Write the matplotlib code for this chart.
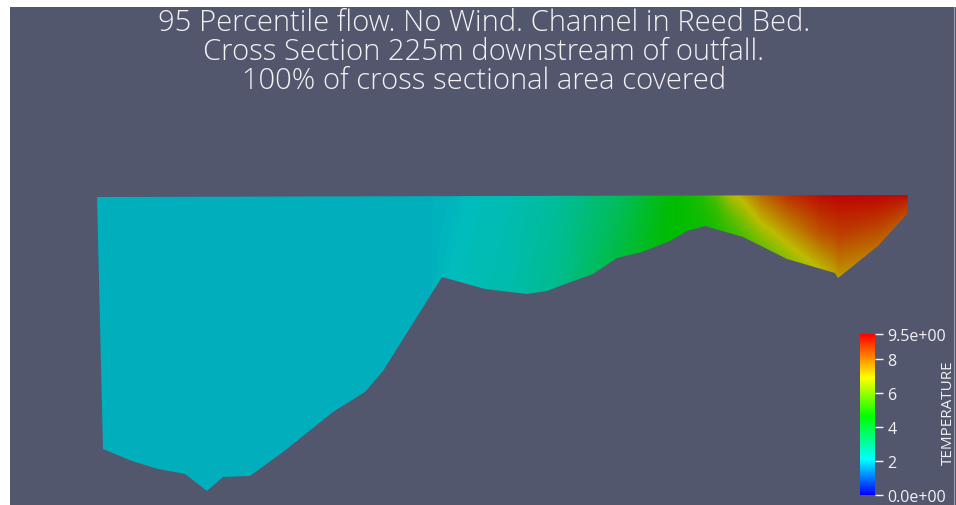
import numpy as np
import matplotlib
matplotlib.use("Agg")
import matplotlib.pyplot as plt
from matplotlib.colors import LinearSegmentedColormap, Normalize
from matplotlib.patches import Polygon, Rectangle
from matplotlib.cm import ScalarMappable

# Cross-section bed profile: chainage (m) and elevation relative to water surface (m)
bed_chainage = [0.1, 0.7, 3.6, 6.2, 8.9, 11.1, 12.7, 15.4, 18.7, 23.7, 26.9, 28.7,
                34.6, 38.9, 43.1, 45.1, 46.4, 49.7, 52.1, 54.6, 57.4, 59.1, 60.9,
                64.7, 65.7, 69.1, 73.9, 74.2, 78.2, 81.1, 81.2]
bed_elevation = [-0.01, -2.53, -2.65, -2.73, -2.78, -2.95, -2.81, -2.80, -2.56, -2.16,
                 -1.96, -1.75, -0.81, -0.93, -0.98, -0.95, -0.90, -0.78, -0.62, -0.56,
                 -0.45, -0.35, -0.30, -0.41, -0.46, -0.63, -0.77, -0.82, -0.50, -0.18, 0.01]

# Temperature (deg) along the section at the surface, mid-depth and bed
temp_chainage = [0.0, 20.4, 33.4, 35.4, 37.4, 41.4, 46.4, 52.4, 56.9, 60.4, 61.9,
                 63.4, 64.9, 66.4, 69.1, 72.4, 74.4, 77.4, 81.2]
temp_surface = [1.95, 1.95, 1.96, 2.0, 2.1, 2.25, 2.6, 3.4, 4.5, 5.0, 5.6,
                6.7, 7.3, 8.0, 8.8, 9.3, 9.4, 9.4, 9.3]
temp_middle = [1.95, 1.95, 1.96, 2.05, 2.15, 2.3, 2.7, 3.6, 4.55, 4.9, 5.2,
               5.8, 6.4, 7.0, 7.6, 8.4, 8.6, 8.7, 8.8]
temp_bed = [1.95, 1.95, 1.96, 2.1, 2.2, 2.35, 2.8, 3.8, 4.6, 4.8, 5.0,
            5.3, 5.6, 5.9, 6.3, 7.0, 7.4, 7.9, 8.4]

# Colour bar scale
cbar_ticks = [0.0, 2.0, 4.0, 6.0, 8.0, 9.5]
cbar_labels = ["0.0e+00", "2", "4", "6", "8", "9.5e+00"]
vmin, vmax = 0.0, 9.5

title_lines = ["95 Percentile flow. No Wind. Channel in Reed Bed.",
               "Cross Section 225m downstream of outfall.",
               "100% of cross sectional area covered"]

W, H = 956, 506
bg = "#52576e"
txt = "#f2f2f2"

nodes = [(0.0, (0, 0, 1)), (0.22, (0, 1, 1)), (0.49, (0, 1, 0)),
         (0.73, (1, 1, 0)), (1.0, (1, 0, 0))]
cmap = LinearSegmentedColormap.from_list("rainbow_t", nodes)
shade = 0.74
cmap_lit = LinearSegmentedColormap.from_list(
    "rainbow_lit", [(p, tuple(shade * c for c in col)) for p, col in nodes])

fig = plt.figure(figsize=(W / 100, H / 100), dpi=100, facecolor="white")
fig.patches.append(Rectangle((10 / W, 0), 1 - 10 / W, (H - 8) / H,
                             transform=fig.transFigure, facecolor=bg,
                             edgecolor="none", zorder=-5))

ax = fig.add_axes([0, 0, 1, 1])
ax.set_facecolor("none")
ax.set_axis_off()
ax.set_xlim(-9.6, 86.0)
ax.set_ylim(-3.09, 1.97)

# Temperature field: piecewise-linear blend surface -> mid-depth -> bed in each vertical
bx = np.array(bed_chainage)
by = np.array(bed_elevation)
xs = np.linspace(0.0, 81.3, 900)
ys = np.linspace(-3.0, 0.05, 400)
X, Y = np.meshgrid(xs, ys)
surf = np.interp(xs, [bx[0], bx[-1]], [by[0], by[-1]])
bed = np.interp(xs, bx, by)
ts = np.interp(xs, temp_chainage, temp_surface)[None, :]
tm = np.interp(xs, temp_chainage, temp_middle)[None, :]
tb = np.interp(xs, temp_chainage, temp_bed)[None, :]
depth = np.maximum(surf - bed, 1e-3)
frac = np.clip((surf[None, :] - Y) / depth[None, :], 0, 1)
upper = ts + (tm - ts) * (frac / 0.5)
lower = tm + (tb - tm) * ((frac - 0.5) / 0.5)
T = np.where(frac <= 0.5, upper, lower)

section = Polygon(np.column_stack([bx, by]), closed=True, facecolor="none",
                  edgecolor="none", transform=ax.transData)
ax.add_patch(section)
im = ax.imshow(T, extent=(xs[0], xs[-1], ys[0], ys[-1]), origin="lower",
               cmap=cmap_lit, vmin=vmin, vmax=vmax, aspect="auto",
               interpolation="bilinear")
im.set_clip_path(section)

# Title
for i, line in enumerate(title_lines):
    fig.text(484 / W, 1 - (23 + 29 * i) / H, line, ha="center", va="center",
             color=txt, fontsize=21, family="Open Sans", fontweight="light")

# Colour bar
cax = fig.add_axes([860 / W, (H - 496) / H, 15 / W, 161 / H])
cb = fig.colorbar(ScalarMappable(norm=Normalize(vmin, vmax), cmap=cmap), cax=cax)
cb.outline.set_visible(False)
cb.set_ticks(cbar_ticks)
cb.set_ticklabels(cbar_labels)
cax.tick_params(colors=txt, length=6, width=1, pad=3, labelsize=11.5)
for lab in cax.get_yticklabels():
    lab.set_family("Open Sans")
fig.text(941 / W, 1 - 413 / H, "TEMPERATURE", rotation=90, ha="left", va="center",
         color=txt, fontsize=11, family="Open Sans")

fig.add_artist(plt.Line2D([953.5 / W, 953.5 / W], [0, (H - 8) / H],
                          transform=fig.transFigure, color="#9a9db0", lw=0.8))

fig.savefig("out.png", dpi=100, facecolor="white")
